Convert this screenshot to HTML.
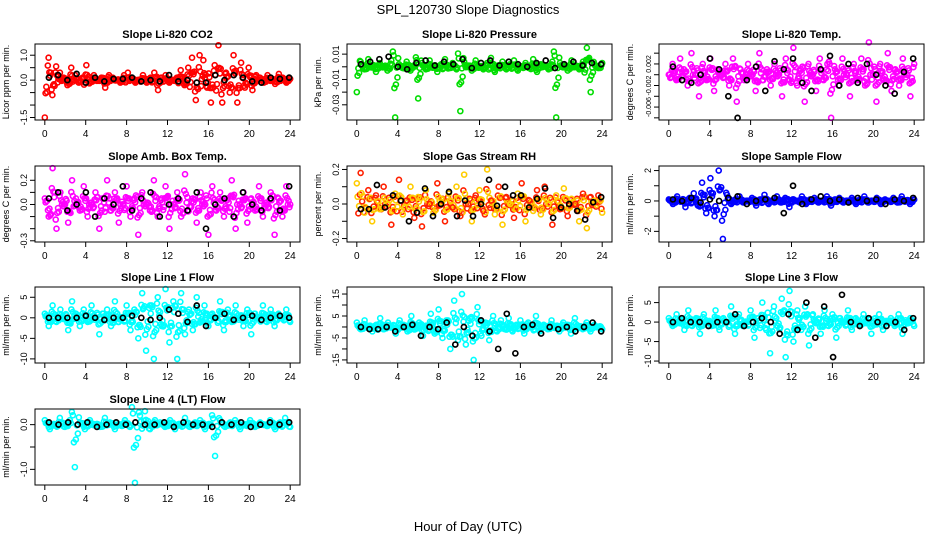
<!DOCTYPE html>
<html><head><meta charset="utf-8"><style>
body{margin:0;background:#fff;}
svg{display:block;font-family:"Liberation Sans",sans-serif;}
</style></head><body>
<svg id="chart" width="936" height="540" viewBox="0 0 936 540" xmlns="http://www.w3.org/2000/svg">
<text x="468" y="14" text-anchor="middle" font-size="13">SPL_120730  Slope Diagnostics</text>
<text x="468" y="531" text-anchor="middle" font-size="13">Hour of Day (UTC)</text>
</svg>
<script>
const xTicks=[0,4,8,12,16,20,24];
const c1=[-1.5,0.9,-0.6,0.55,0.3,0.1,-0.2,0.5,0.2,-0.1,0.1,0.6,-0.1,0.2,0.0,0.1,-0.3,0.2,0.1,0.0,-0.1,0.2,0.3,0.1,-0.1,0.0,0.2,-0.1,0.1,0.3,-0.4,0.1,0.2,-0.1,0.0,0.1,0.4,-0.2,0.5,0.9,-0.8,1.0,0.8,-0.3,-0.9,0.6,1.4,-0.9,0.3,-0.5,1.0,-0.9,0.7,-0.3,0.5,-0.4,0.2,0.1,-0.1,0.2,0.0,-0.15,0.25,0.1,-0.1,0.05];
const b1=[0.1,0.2,0.0,0.25,-0.1,0.1,-0.05,0.05,0.05,0.1,-0.05,0.0,-0.05,0.2,-0.05,0.0,-0.1,-0.1,0.2,0.0,0.2,0.1,-0.05,-0.1,0.1,0.05,0.1];
const c2=[-0.02,0.004,-0.002,0.006,0.001,-0.004,0.003,0.0,-0.003,0.005,-0.04,0.002,-0.001,0.004,-0.003,0.001,-0.025,0.003,-0.002,0.005,0.0,-0.004,0.002,0.006,-0.001,0.003,-0.002,-0.035,0.004,0.001,-0.003,0.005,0.0,-0.002,0.003,0.007,-0.004,0.001,0.004,-0.002,0.002,0.005,-0.003,0.0,0.003,-0.001,0.006,-0.004,0.002,0.001,-0.002,0.004,-0.04,0.003,0.0,-0.003,0.005,0.001,-0.002,0.004,0.015,-0.02,0.002,-0.001,0.003];
const b2=[0.002,0.004,0.006,0.008,0.0,-0.002,0.003,0.005,0.001,0.004,0.002,0.006,-0.001,0.003,0.005,0.001,0.004,0.002,0.0,0.003,0.005,-0.001,0.002,0.004,0.001,0.003,0.002];
const c3=[0.0,0.002,-0.001,0.003,0.001,-0.002,0.004,0.0,-0.004,0.002,-0.001,0.003,-0.003,0.001,0.0,0.002,-0.002,0.003,-0.005,0.001,-0.001,0.002,0.0,-0.003,0.004,-0.001,0.001,-0.002,0.002,0.0,-0.004,0.003,-0.001,0.005,-0.002,0.001,-0.005,0.002,0.0,-0.003,0.003,-0.001,0.002,-0.008,0.001,-0.002,0.003,0.0,-0.004,0.002,-0.001,0.003,-0.002,0.006,0.0,-0.005,0.002,-0.001,0.004,-0.003,0.001,-0.002,0.003,0.0,-0.004,0.002];
const b3=[0.0015,-0.001,-0.0015,0.0,0.003,0.001,-0.004,-0.008,-0.001,0.0015,-0.003,0.0025,0.001,0.003,-0.0015,-0.003,0.001,0.0035,-0.002,0.002,-0.0015,0.002,0.0,-0.002,-0.0035,0.0005,0.003];
const c4=[0.05,-0.1,0.3,-0.2,0.1,0.0,-0.15,0.2,0.05,-0.05,0.15,-0.1,0.0,0.1,-0.2,0.05,0.2,-0.05,0.1,-0.15,0.0,0.15,-0.1,0.05,-0.25,0.1,0.0,-0.05,0.2,-0.1,0.05,0.15,-0.2,0.0,0.1,-0.1,0.25,-0.05,0.05,-0.15,0.1,0.0,-0.25,0.15,-0.05,0.1,-0.1,0.05,0.2,-0.2,0.0,0.1,-0.15,0.05,-0.05,0.15,-0.1,0.0,0.1,-0.25,0.05,-0.1,0.15,0.0];
const b4=[0.05,0.1,-0.05,0.0,0.1,-0.1,0.05,0.0,0.15,-0.05,0.05,0.1,-0.1,0.0,0.05,-0.05,0.1,-0.2,0.0,0.05,-0.1,0.1,0.0,-0.05,0.05,-0.05,0.15];
const c5=[0.12,0.18,-0.05,0.08,-0.1,0.05,-0.03,0.1,0.0,-0.12,0.06,0.14,-0.06,0.02,0.1,-0.08,0.04,-0.13,0.08,0.0,-0.05,0.12,0.03,-0.1,0.06,-0.02,0.1,-0.07,0.17,0.0,-0.1,0.05,0.08,-0.04,0.2,0.02,-0.06,0.1,-0.12,0.04,0.0,-0.08,0.06,0.12,-0.1,0.02,-0.04,0.08,-0.06,0.1,0.0,-0.12,0.05,-0.03,0.09,-0.07,0.03,0.0,-0.1,0.06,-0.14,0.04,0.02,0.05,-0.05];
const b5=[-0.03,-0.03,0.11,-0.02,0.05,0.02,-0.1,-0.05,0.09,-0.07,0.0,0.07,-0.07,0.02,-0.07,0.0,0.14,-0.01,0.1,0.05,0.05,-0.02,0.03,0.09,-0.08,-0.02,0.0,-0.04,-0.09,0.01,0.04];
const c6=[0.1,-0.2,0.3,0.0,-0.4,0.2,0.5,-0.3,1.2,-0.8,1.5,-1.0,2.0,-2.5,0.4,-0.2,0.1,0.3,-0.1,0.0,0.2,-0.3,0.1,0.4,-0.2,0.0,0.3,-0.1,0.2,-0.4,0.1,0.0,0.3,-0.2,0.1,0.2,-0.1,0.0,0.3,-0.3,0.1,0.2,-0.1,0.0,0.2,-0.2,0.1,0.3,-0.1,0.0,0.2,-0.2,0.1,0.0,0.2,-0.1,0.3,0.0,-0.2,0.1];
const b6=[0.1,0.0,0.2,-0.1,0.1,0.0,0.2,0.3,-0.2,0.0,0.1,0.2,-0.8,1.0,-0.2,0.1,0.3,0.0,0.1,-0.1,0.2,0.0,0.1,-0.2,0.1,0.0,0.2];
const c7=[1,-2,3,-1,2,0,-3,4,1,-2,2,-1,3,0,-4,1,2,-2,4,-1,0,3,-3,2,-5,6,-8,3,-10,5,-2,7,-6,4,-10,6,-4,2,-3,5,-1,3,-2,1,0,4,-3,2,-1,3,0,-2,2,-4,1,0,3,-1,2,-2,1,0,2,-1];
const b7=[0,0,0,0,0.5,0,-0.5,0,0,0.5,0,-0.5,0,2,1,-1,3,-2,0,1,-0.5,0,0.5,-0.5,0,0.5,0];
const c8=[2,-1,3,0,-2,1,4,-1,2,0,-3,3,1,-2,5,-1,2,-4,0,6,-3,8,-5,3,-10,12,-6,15,-8,4,-15,9,-4,2,-6,5,-2,3,-1,4,-2,1,3,-3,2,0,5,-2,1,-1,3,0,-2,2,1,-3,4,0,-1,2,-2,1,0,-1];
const b8=[0,-1,-1,0,-2,0,1,-4,0,-1,2,-8,0,-4,3,-2,-10,6,-12,0,1,-3,0,-1,0,-2,0,2,-2];
const c9=[1,-1,2,0,-2,3,-1,1,-3,2,0,-1,3,-2,1,0,4,-3,2,-1,0,3,-4,1,5,-2,-8,4,-1,6,-9,8,-5,3,-2,4,-6,2,0,-3,3,-1,2,-4,1,0,3,-2,1,-1,2,0,-3,1,2,-2,0,1,-1,2,-3,0,1,-1];
const b9=[0,1,0,0,-1,0,0,2,-1,0,1,0,-3,2,-2,5,-4,4,-9,7,0,-1,1,0,-1,0,-2,1];
const c10=[0.1,-0.1,0.0,0.15,-0.05,0.1,-0.95,0.05,-0.1,0.1,0.0,-0.05,0.15,0.05,-0.1,0.0,0.1,-0.05,-1.3,0.2,0.3,-0.1,0.1,0.05,-0.05,0.1,-0.1,0.0,0.15,-0.05,0.05,0.1,-0.1,0.0,-0.7,0.1,-0.05,0.05,0.1,-0.1,0.0,0.1,-0.05,0.05,0.0,0.1,-0.1,0.05,0.15,-0.05];
const b10=[0.05,0.0,0.05,0.0,0.05,-0.05,0.0,0.05,0.0,0.05,0.0,0.0,0.05,-0.05,0.05,0.0,0.0,-0.05,0.05,0.0,0.05,-0.05,0.0,0.05,0.0,0.05];

const panels=[
 {t:"Slope Li-820 CO2",yl:"Licor ppm per min.",c:c1,b:b1,col:"#ff0000",col2:"#ff0000",y0:-1.6,y1:1.45,ticks:[-1.5,-1,-0.5,0,0.5,1],labs:["-1.5","","","0.0","","1.0"],L:35,T:44,fs:9},
 {t:"Slope Li-820 Pressure",yl:"kPa per min.",c:c2,b:b2,col:"#00dd00",col2:"#00dd00",y0:-0.042,y1:0.018,ticks:[-0.03,-0.02,-0.01,0,0.01],labs:["-0.03","","-0.01","","0.01"],L:347,T:44,fs:9},
 {t:"Slope Li-820 Temp.",yl:"degrees C per min.",c:c3,b:b3,col:"#ff00ff",col2:"#ff00ff",y0:-0.0084,y1:0.0057,ticks:[-0.008,-0.006,-0.004,-0.002,0,0.002,0.004],labs:["","-0.006","","-0.002","","0.002",""],L:659,T:44,fs:7},
 {t:"Slope Amb. Box Temp.",yl:"degrees C per min.",c:c4,b:b4,col:"#ff00ff",col2:"#ff00ff",y0:-0.31,y1:0.318,ticks:[-0.3,-0.2,-0.1,0,0.1,0.2],labs:["-0.3","","","0.0","","0.2"],L:35,T:166,fs:9},
 {t:"Slope Gas Stream RH",yl:"percent per min.",c:c5,b:b5,col:"#ffcc00",col2:"#ff2000",y0:-0.22,y1:0.22,ticks:[-0.2,-0.1,0,0.1,0.2],labs:["-0.2","","0.0","","0.2"],L:347,T:166,fs:9},
 {t:"Slope Sample Flow",yl:"ml/min per min.",c:c6,b:b6,col:"#0000ff",col2:"#0000ff",y0:-2.7,y1:2.3,ticks:[-2,-1,0,1,2],labs:["-2","","0","","2"],L:659,T:166,fs:9},
 {t:"Slope Line 1 Flow",yl:"ml/min per min.",c:c7,b:b7,col:"#00ffff",col2:"#00ffff",y0:-11,y1:7.5,ticks:[-10,-5,0,5],labs:["-10","-5","0","5"],L:35,T:287,fs:9},
 {t:"Slope Line 2 Flow",yl:"ml/min per min.",c:c8,b:b8,col:"#00ffff",col2:"#00ffff",y0:-16.4,y1:18.2,ticks:[-15,-10,-5,0,5,10,15],labs:["-15","","-5","","5","","15"],L:347,T:287,fs:9},
 {t:"Slope Line 3 Flow",yl:"ml/min per min.",c:c9,b:b9,col:"#00ffff",col2:"#00ffff",y0:-10.5,y1:9,ticks:[-10,-5,0,5],labs:["-10","-5","0","5"],L:659,T:287,fs:9},
 {t:"Slope Line 4 (LT) Flow",yl:"ml/min per min.",c:c10,b:b10,col:"#00ffff",col2:"#00ffff",y0:-1.35,y1:0.35,ticks:[-1,-0.5,0],labs:["-1.0","","0.0"],L:35,T:409,fs:9}
];
const W=265,H=76;
const svg=document.getElementById('chart');
const NS="http://www.w3.org/2000/svg";
function mk(tag,at,parent){const e=document.createElementNS(NS,tag);for(const k in at)e.setAttribute(k,at[k]);(parent||svg).appendChild(e);return e;}
panels.forEach((p,pi)=>{
 const g=mk('g',{});
 
 
 const xs=v=>p.L+(v+0.96)/25.92*W;
 const ys=v=>p.T+H-(v-p.y0)/(p.y1-p.y0)*H;
 const tt=mk('text',{x:p.L+W/2,y:p.T-6,'text-anchor':'middle','font-size':11,'font-weight':'bold'},g);tt.textContent=p.t;
 
 
 const yl=mk('text',{transform:`translate(${p.L-26},${p.T+H/2}) rotate(-90)`,'text-anchor':'middle','font-size':9},g);yl.textContent=p.yl;
 
 
 xTicks.forEach(t=>{const x=xs(t);mk('line',{x1:x,x2:x,y1:p.T+H,y2:p.T+H+5,stroke:'#000'},g);
  const l=mk('text',{x:x,y:p.T+H+17,'text-anchor':'middle','font-size':10},g);l.textContent=t;
  
  });
 p.ticks.forEach((t,i)=>{const y=ys(t);mk('line',{x1:p.L-5,x2:p.L,y1:y,y2:y,stroke:'#000'},g);
  if(p.labs[i]){const l=mk('text',{transform:`translate(${p.L-8},${y}) rotate(-90)`,'text-anchor':'middle','font-size':p.fs},g);l.textContent=p.labs[i];
  
  }});
 const n=p.c.length;
 const band=mk('g',{},g);
 
 
 const fr=[0.2,0.4,0.6,0.8];
 p.c.forEach((v,i)=>{if(i==0)return;const a=p.c[i-1];
  const vals=[a*0.35,-v*0.3,(a-v)*0.2,v*0.4-a*0.15];
  fr.forEach((f,k)=>{const h=(i-1+f)*24/(n-1);
   const c=mk('circle',{cx:xs(h),cy:ys(vals[k]),r:2.5,fill:'none',stroke:(k%2?p.col2:p.col),'stroke-width':1.6},band);
   
   });});
 const dc=mk('g',{},g);
 
 
 p.c.forEach((v,i)=>{const h=i*24/(n-1);
  const c=mk('circle',{cx:xs(h),cy:ys(v),r:2.5,fill:'none',stroke:(i%2?p.col2:p.col),'stroke-width':1.6},dc);
  
  });
 const db=mk('g',{},g);
 
 
 const nb=p.b.length;
 p.b.forEach((v,i)=>{const h=0.4+i*23.5/(nb-1);
  const c=mk('circle',{cx:xs(h),cy:ys(v),r:2.5,fill:'none',stroke:'#000','stroke-width':1.7},db);
  
  });
 const box=mk('rect',{x:p.L,y:p.T,width:W,height:H,fill:'none',stroke:'#000','stroke-width':1},g);
 
 
});
</script>
</body></html>
